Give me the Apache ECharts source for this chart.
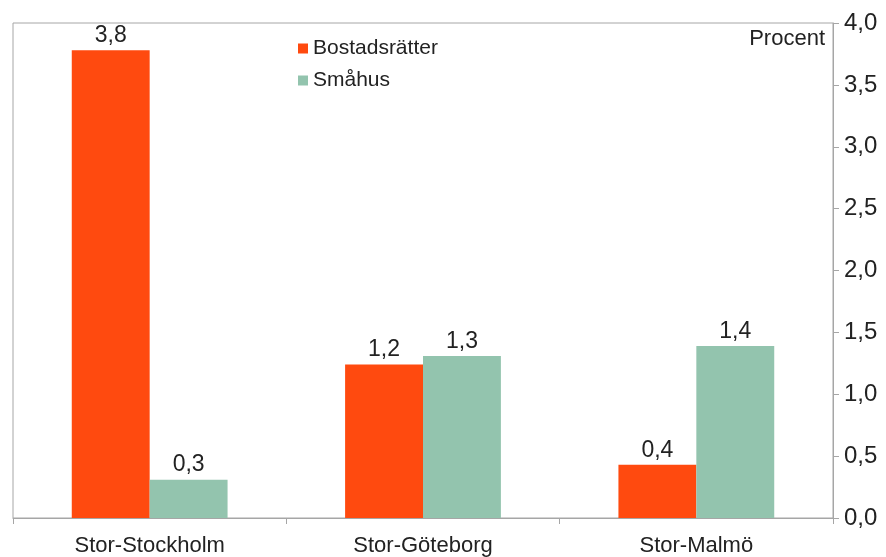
<!DOCTYPE html>
<html>
<head>
<meta charset="utf-8">
<script src="https://cdn.jsdelivr.net/npm/echarts@6/dist/echarts.min.js"></script>
<style>
html,body{margin:0;padding:0;background:#fff;}
#chart{width:886px;height:557px;}
</style>
</head>
<body>
<div id="chart"></div>
<script>
const categories = ['Stor-Stockholm', 'Stor-Göteborg', 'Stor-Malmö'];
const bostadsratter = [3.78, 1.24, 0.43];
const smahus = [0.31, 1.31, 1.39];
const seriesNames = ['Bostadsrätter', 'Småhus'];

const FONT = '"Liberation Sans", Arial, sans-serif';
const fmt = v => v.toFixed(1).replace('.', ',');

const chart = echarts.init(document.getElementById('chart'), null, {renderer: 'canvas'});
chart.setOption({
  animation: false,
  backgroundColor: '#fff',
  grid: {left: 13, right: 53, top: 23, bottom: 37, show: true, borderColor: '#a6a6a6', borderWidth: 1},
  legend: {
    orient: 'vertical', left: 293, top: 33, itemWidth: 10, itemHeight: 10, itemGap: 11,
    icon: 'rect',
    textStyle: {fontFamily: FONT, fontSize: 21, color: '#222'},
    data: seriesNames
  },
  graphic: [{
    type: 'text', right: 61, top: 28,
    style: {text: 'Procent', font: '22px ' + FONT, fill: '#222'}
  }],
  xAxis: {
    type: 'category', data: categories,
    axisLine: {lineStyle: {color: '#a6a6a6'}},
    axisTick: {show: true, length: 6, lineStyle: {color: '#a6a6a6'}},
    axisLabel: {fontFamily: FONT, fontSize: 22, color: '#222', margin: 17}
  },
  yAxis: {
    type: 'value', position: 'right', min: 0, max: 4, interval: 0.5,
    axisLine: {show: true, lineStyle: {color: '#a6a6a6'}},
    axisTick: {show: true, length: 6, lineStyle: {color: '#a6a6a6'}},
    splitLine: {show: false},
    axisLabel: {fontFamily: FONT, fontSize: 24, color: '#222', margin: 11, formatter: v => fmt(v)}
  },
  series: [
    {
      name: seriesNames[0], type: 'bar', data: bostadsratter, barGap: '0%', barCategoryGap: '43%',
      itemStyle: {color: '#FF4A0F'},
      label: {show: true, position: 'top', distance: 3, fontFamily: FONT, fontSize: 23, color: '#222', formatter: p => fmt(p.value)}
    },
    {
      name: seriesNames[1], type: 'bar', data: smahus, barGap: '0%', barCategoryGap: '43%',
      itemStyle: {color: '#93C4AE'},
      label: {show: true, position: 'top', distance: 3, fontFamily: FONT, fontSize: 23, color: '#222', formatter: p => fmt(p.value)}
    }
  ]
});
</script>
</body>
</html>
